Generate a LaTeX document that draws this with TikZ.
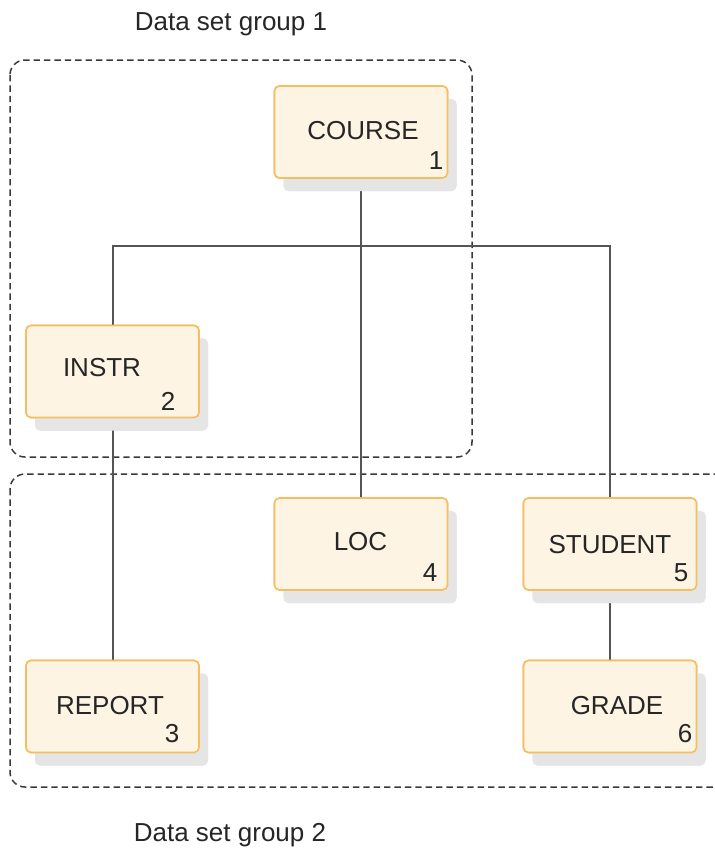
\documentclass[tikz,border=0pt]{standalone}
\usepackage{fontspec}
\setmainfont{Liberation Sans}
\usetikzlibrary{shadows}
\definecolor{boxfill}{HTML}{FDF4E3}
\definecolor{boxline}{HTML}{F5BE62}
\definecolor{linkc}{HTML}{555555}
\definecolor{grpc}{HTML}{3A3A3A}
\tikzset{
  seg/.style={draw=boxline, line width=0.8pt, fill=boxfill, rounded corners=2.5pt,
    minimum width=86.5pt, minimum height=46pt, inner sep=0pt,
    drop shadow={shadow xshift=4.5pt, shadow yshift=-6.5pt, fill=black!10, opacity=1}},
  lbl/.style={font=\fontsize{13pt}{15pt}\selectfont, text=black!85, inner sep=0pt},
  num/.style={font=\fontsize{13pt}{15pt}\selectfont, text=black!85, inner sep=0pt},
  link/.style={draw=linkc, line width=1pt},
  grp/.style={draw=grpc, line width=0.75pt, dash pattern=on 3.2pt off 2pt, rounded corners=7.5pt}
}
\begin{document}
\begin{tikzpicture}[x=0.5pt, y=-0.5pt]
\clip (0,0) rectangle (715,848);
\fill[white] (0,0) rectangle (715,848);
% groups
\draw[grp] (10,60) rectangle (472,457);
\draw[grp] (10,474) rectangle (740,787);
\node[lbl] (g1) at (231,24) {Data set group 1};
\node[lbl] (g2) at (230,835) {Data set group 2};
% boxes
\node[seg] (course) at (361,132) {};
\node[seg] (instr) at (112.5,371.5) {};
\node[seg] (report) at (112.5,706.5) {};
\node[seg] (loc) at (361,544) {};
\node[seg] (student) at (610,544) {};
\node[seg] (grade) at (610,706.5) {};
% connectors
\coordinate (j) at (361,246);
\draw[link] (course.south) -- (loc.north);
\draw[link] (instr.north) |- (j) -| (student.north);
\draw[link] (instr.south) -- (report.north);
\draw[link] (student.south) -- (grade.north);
% redraw boxes on top of lines
\node[seg] at (course) {};
\node[seg] at (instr) {};
\node[seg] at (report) {};
\node[seg] at (loc) {};
\node[seg] at (student) {};
\node[seg] at (grade) {};
% labels
\node[lbl] (tcourse) at (363,131) {COURSE};
\node[lbl] (tinstr) at (102,368) {INSTR};
\node[lbl] (treport) at (110,706) {REPORT};
\node[lbl] (tloc) at (360.5,542) {LOC};
\node[lbl] (tstudent) at (610,545) {STUDENT};
\node[lbl] (tgrade) at (617,706) {GRADE};
% numbers
\node[num] (n1) at (436,161) {1};
\node[num] (n2) at (168,401) {2};
\node[num] (n3) at (172,734) {3};
\node[num] (n4) at (430,573) {4};
\node[num] (n5) at (681,573) {5};
\node[num] (n6) at (685,734) {6};
\end{tikzpicture}
\end{document}
